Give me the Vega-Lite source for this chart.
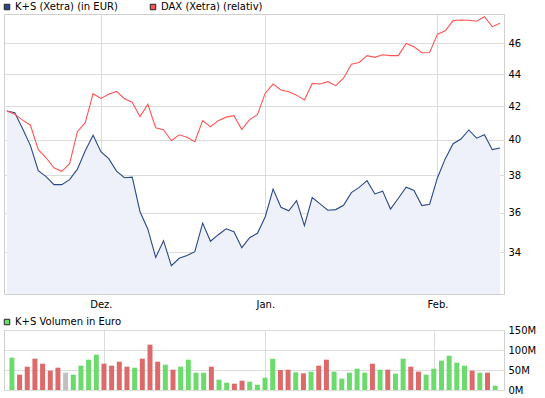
{
  "$schema": "https://vega.github.io/schema/vega-lite/v6.json",
  "background": "white",
  "padding": {"left": 1, "top": 1, "right": 0, "bottom": 0},
  "spacing": 6,
  "config": {
    "font": "DejaVu Sans",
    "view": {"stroke": "#d0d0d0"},
    "axis": {"labelFont": "DejaVu Sans", "labelFontSize": 10, "labelColor": "#000000", "gridColor": "#dcdcdc", "gridOpacity": 1, "domain": false, "ticks": false, "title": null, "labelFlush": false, "labelOverlap": false},
    "legend": {"labelFont": "DejaVu Sans", "labelFontSize": 10, "labelColor": "#000000", "symbolStrokeColor": "#222222", "symbolStrokeWidth": 1, "symbolSize": 30, "symbolType": "square", "padding": 0, "labelOffset": 3, "symbolOpacity": 1}
  },
  "resolve": {"scale": {"color": "independent", "fill": "independent", "stroke": "independent", "x": "independent", "y": "independent"}, "legend": {"color": "independent", "fill": "independent"}},
  "datasets": {
    "d": [
      {"i": 0, "ks": 41.71, "dax": 41.71, "vol": 80800000, "dir": "up"},
      {"i": 1, "ks": 41.61, "dax": 41.52, "vol": 38300000, "dir": "down"},
      {"i": 2, "ks": 40.65, "dax": 41.16, "vol": 58300000, "dir": "down"},
      {"i": 3, "ks": 39.67, "dax": 40.86, "vol": 78300000, "dir": "down"},
      {"i": 4, "ks": 38.26, "dax": 39.44, "vol": 65800000, "dir": "down"},
      {"i": 5, "ks": 37.93, "dax": 38.98, "vol": 48300000, "dir": "down"},
      {"i": 6, "ks": 37.49, "dax": 38.42, "vol": 55800000, "dir": "down"},
      {"i": 7, "ks": 37.49, "dax": 38.22, "vol": 43300000, "dir": "flat"},
      {"i": 8, "ks": 37.76, "dax": 38.65, "vol": 38300000, "dir": "up"},
      {"i": 9, "ks": 38.34, "dax": 40.48, "vol": 60800000, "dir": "up"},
      {"i": 10, "ks": 39.38, "dax": 41.01, "vol": 75800000, "dir": "up"},
      {"i": 11, "ks": 40.27, "dax": 42.77, "vol": 88300000, "dir": "up"},
      {"i": 12, "ks": 39.32, "dax": 42.48, "vol": 65800000, "dir": "down"},
      {"i": 13, "ks": 38.93, "dax": 42.74, "vol": 60800000, "dir": "down"},
      {"i": 14, "ks": 38.23, "dax": 42.91, "vol": 70800000, "dir": "down"},
      {"i": 15, "ks": 37.87, "dax": 42.46, "vol": 58300000, "dir": "down"},
      {"i": 16, "ks": 37.90, "dax": 42.24, "vol": 55800000, "dir": "up"},
      {"i": 17, "ks": 36.05, "dax": 41.37, "vol": 78300000, "dir": "down"},
      {"i": 18, "ks": 35.15, "dax": 42.12, "vol": 113300000, "dir": "down"},
      {"i": 19, "ks": 33.74, "dax": 40.71, "vol": 70800000, "dir": "down"},
      {"i": 20, "ks": 34.57, "dax": 40.60, "vol": 63300000, "dir": "up"},
      {"i": 21, "ks": 33.34, "dax": 39.95, "vol": 50800000, "dir": "down"},
      {"i": 22, "ks": 33.70, "dax": 40.30, "vol": 58300000, "dir": "up"},
      {"i": 23, "ks": 33.83, "dax": 40.16, "vol": 75800000, "dir": "up"},
      {"i": 24, "ks": 34.02, "dax": 39.90, "vol": 43300000, "dir": "up"},
      {"i": 25, "ks": 35.46, "dax": 41.13, "vol": 43300000, "dir": "up"},
      {"i": 26, "ks": 34.54, "dax": 40.77, "vol": 58300000, "dir": "down"},
      {"i": 27, "ks": 34.87, "dax": 41.13, "vol": 25800000, "dir": "up"},
      {"i": 28, "ks": 35.17, "dax": 41.34, "vol": 18300000, "dir": "up"},
      {"i": 29, "ks": 35.02, "dax": 41.43, "vol": 15800000, "dir": "down"},
      {"i": 30, "ks": 34.22, "dax": 40.60, "vol": 23300000, "dir": "down"},
      {"i": 31, "ks": 34.72, "dax": 41.19, "vol": 20800000, "dir": "up"},
      {"i": 32, "ks": 34.94, "dax": 41.49, "vol": 13300000, "dir": "up"},
      {"i": 33, "ks": 35.79, "dax": 42.80, "vol": 30800000, "dir": "up"},
      {"i": 34, "ks": 37.25, "dax": 43.37, "vol": 78000000, "dir": "up"},
      {"i": 35, "ks": 36.28, "dax": 43.00, "vol": 50000000, "dir": "down"},
      {"i": 36, "ks": 36.10, "dax": 42.89, "vol": 50800000, "dir": "down"},
      {"i": 37, "ks": 36.63, "dax": 42.68, "vol": 44200000, "dir": "up"},
      {"i": 38, "ks": 35.33, "dax": 42.38, "vol": 41700000, "dir": "down"},
      {"i": 39, "ks": 36.80, "dax": 43.41, "vol": 45800000, "dir": "up"},
      {"i": 40, "ks": 36.46, "dax": 43.37, "vol": 60800000, "dir": "down"},
      {"i": 41, "ks": 36.13, "dax": 43.52, "vol": 75800000, "dir": "down"},
      {"i": 42, "ks": 36.16, "dax": 43.27, "vol": 45800000, "dir": "up"},
      {"i": 43, "ks": 36.39, "dax": 43.74, "vol": 28300000, "dir": "up"},
      {"i": 44, "ks": 37.06, "dax": 44.63, "vol": 43300000, "dir": "up"},
      {"i": 45, "ks": 37.34, "dax": 44.75, "vol": 53300000, "dir": "up"},
      {"i": 46, "ks": 37.71, "dax": 45.19, "vol": 43300000, "dir": "up"},
      {"i": 47, "ks": 36.99, "dax": 45.08, "vol": 65800000, "dir": "down"},
      {"i": 48, "ks": 37.14, "dax": 45.25, "vol": 50800000, "dir": "up"},
      {"i": 49, "ks": 36.19, "dax": 45.19, "vol": 50800000, "dir": "down"},
      {"i": 50, "ks": 36.76, "dax": 45.19, "vol": 40800000, "dir": "up"},
      {"i": 51, "ks": 37.35, "dax": 46.00, "vol": 78300000, "dir": "up"},
      {"i": 52, "ks": 37.18, "dax": 45.78, "vol": 58300000, "dir": "down"},
      {"i": 53, "ks": 36.37, "dax": 45.38, "vol": 45800000, "dir": "down"},
      {"i": 54, "ks": 36.44, "dax": 45.40, "vol": 38300000, "dir": "up"},
      {"i": 55, "ks": 37.87, "dax": 46.62, "vol": 53300000, "dir": "up"},
      {"i": 56, "ks": 38.93, "dax": 46.85, "vol": 73300000, "dir": "up"},
      {"i": 57, "ks": 39.78, "dax": 47.54, "vol": 85800000, "dir": "up"},
      {"i": 58, "ks": 40.05, "dax": 47.58, "vol": 68300000, "dir": "up"},
      {"i": 59, "ks": 40.58, "dax": 47.57, "vol": 60800000, "dir": "up"},
      {"i": 60, "ks": 40.10, "dax": 47.50, "vol": 48300000, "dir": "down"},
      {"i": 61, "ks": 40.30, "dax": 47.81, "vol": 43300000, "dir": "up"},
      {"i": 62, "ks": 39.44, "dax": 47.13, "vol": 43300000, "dir": "down"},
      {"i": 63, "ks": 39.53, "dax": 47.36, "vol": 10800000, "dir": "up"}
    ]
  },
  "vconcat": [
    {
      "width": 500,
      "height": 280,
      "data": {"name": "d"},
      "resolve": {"scale": {"fill": "independent", "stroke": "independent"}},
      "layer": [
        {
          "mark": {"type": "area", "color": "#eef1f9"},
          "encoding": {
            "x": {"field": "i", "type": "quantitative", "scale": {"domain": [-0.38, 63.5], "nice": false, "zero": false},
                  "axis": {"values": [12, 33, 55], "labelExpr": "datum.value == 12 ? 'Dez.' : datum.value == 33 ? 'Jan.' : 'Feb.'", "grid": true, "labelPadding": 5}},
            "y": {"field": "ks", "type": "quantitative", "scale": {"type": "log", "domain": [32, 48], "nice": false},
                  "axis": {"orient": "right", "values": [34, 36, 38, 40, 42, 44, 46], "grid": true, "labelPadding": 4}},
            "y2": {"datum": 32}
          }
        },
        {
          "transform": [{"fold": ["ks", "dax"], "as": ["series", "val"]}],
          "mark": {"type": "line", "strokeWidth": 1.1},
          "encoding": {
            "x": {"field": "i", "type": "quantitative"},
            "y": {"field": "val", "type": "quantitative"},
            "stroke": {"field": "series", "type": "nominal", "scale": {"domain": ["ks", "dax"], "range": ["#2a4888", "#ff5555"]}, "legend": null}
          }
        },
        {
          "transform": [{"fold": ["ks", "dax"], "as": ["series", "val"]}],
          "mark": {"type": "square", "filled": true, "size": 0},
          "encoding": {
            "x": {"field": "i", "type": "quantitative"},
            "y": {"field": "val", "type": "quantitative"},
            "fill": {"field": "series", "type": "nominal", "scale": {"domain": ["ks", "dax"], "range": ["#2a4888", "#ff5555"]},
                      "legend": {"orient": "none", "legendX": -2, "legendY": -12, "direction": "horizontal", "title": null, "columnPadding": 30,
                                 "labelExpr": "datum.value == 'ks' ? 'K+S (Xetra) (in EUR)' : 'DAX (Xetra) (relativ)'"}}
          }
        }
      ]
    },
    {
      "width": 500,
      "height": 60,
      "data": {"name": "d"},
      "mark": {"type": "bar", "size": 5},
      "encoding": {
        "x": {"field": "i", "type": "quantitative", "scale": {"domain": [-0.38, 63.5], "nice": false, "zero": false},
              "axis": {"values": [12, 33, 55], "labels": false, "grid": true}},
        "y": {"field": "vol", "type": "quantitative", "scale": {"domain": [0, 150000000], "nice": false},
              "axis": {"orient": "right", "values": [0, 50000000, 100000000, 150000000], "labelExpr": "(datum.value / 1000000) + 'M'", "grid": true, "labelPadding": 4}},
        "color": {"field": "dir", "type": "nominal", "scale": {"domain": ["up", "down", "flat"], "range": ["#6cda6c", "#dc6a6a", "#c0c0c0"]},
                  "legend": {"orient": "none", "legendX": -2, "legendY": -13, "title": null, "values": ["up"], "labelExpr": "'K+S Volumen in Euro'"}}
      }
    }
  ]
}
